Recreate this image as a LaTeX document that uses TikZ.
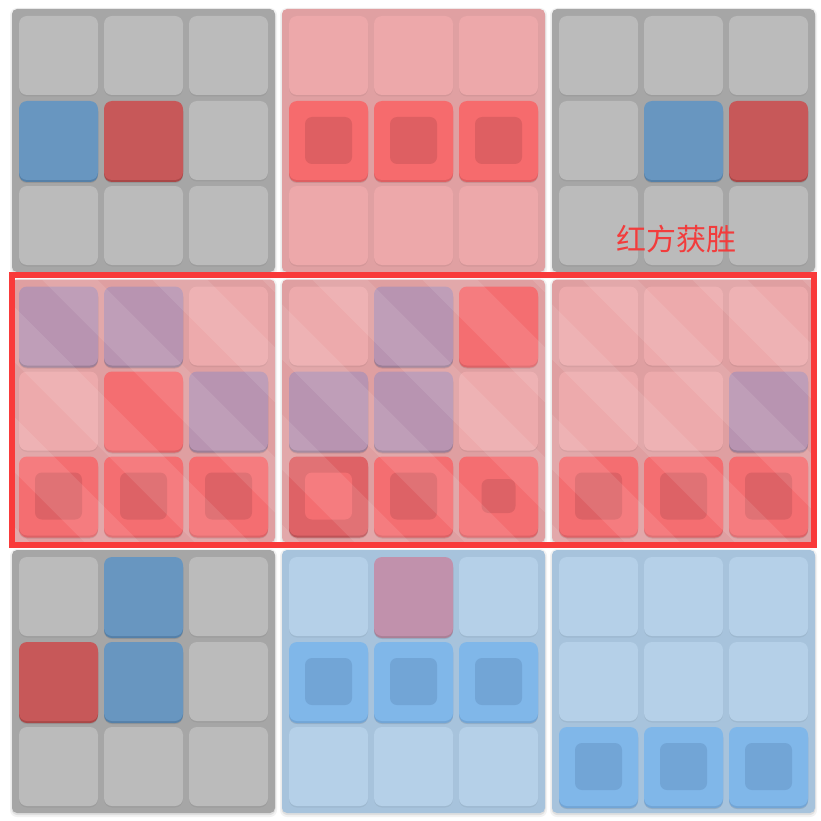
\documentclass[tikz,border=0pt]{standalone}
\usepackage{fontspec}
\newfontfamily\cjk{Noto Sans CJK SC}
\definecolor{grayBg}{HTML}{A6A6A6}
\definecolor{grayCell}{HTML}{BBBBBB}
\definecolor{bluePiece}{HTML}{6896C0}
\definecolor{bluePieceDk}{HTML}{5580A8}
\definecolor{redPiece}{HTML}{C75859}
\definecolor{redPieceDk}{HTML}{A94848}
\definecolor{redBg}{HTML}{E0A0A2}
\definecolor{redCell}{HTML}{EDA8AA}
\definecolor{redHi}{HTML}{F66B6D}
\definecolor{redInner}{HTML}{DE5F62}
\definecolor{blueBg}{HTML}{A7C3DC}
\definecolor{blueCell}{HTML}{B5D0E8}
\definecolor{blueHi}{HTML}{80B7E9}
\definecolor{blueInner}{HTML}{72A5D6}
\definecolor{pinkPiece}{HTML}{C191AC}
\definecolor{midBg}{HTML}{DF9FA1}
\definecolor{midCell}{HTML}{EDAAAC}
\definecolor{midPurple}{HTML}{B894B1}
\definecolor{midHi}{HTML}{F46E71}
\definecolor{midInner}{HTML}{DD6266}
\definecolor{midDark}{HTML}{DE6266}
\definecolor{winRed}{HTML}{F93A3A}
\definecolor{textRed}{HTML}{F23C3C}
\newcommand{\drawboard}[3]{%
  \fill[black,opacity=0.05,rounded corners=7] ({#1-2},{#2-1}) rectangle ++(267,268);
  \fill[black,opacity=0.08,rounded corners=6] ({#1-0.5},{#2+1}) rectangle ++(264,264);
  \fill[#3,rounded corners=5] (#1,#2) rectangle ++(263,263);}
\newcommand{\drawcell}[5]{%
  \fill[black,opacity=0.05,rounded corners=8] ({#1+7+#3*85},{#2+7+#4*85+1.5}) rectangle ++(79,79);
  \fill[#5,rounded corners=8] ({#1+7+#3*85},{#2+7+#4*85}) rectangle ++(79,79);}
\newcommand{\drawpiece}[6]{%
  \fill[black,opacity=0.10,rounded corners=8] ({#1+7+#3*85},{#2+7+#4*85+3}) rectangle ++(79,79);
  \fill[#6,rounded corners=8] ({#1+7+#3*85},{#2+7+#4*85+2}) rectangle ++(79,79);
  \fill[#5,rounded corners=8] ({#1+7+#3*85},{#2+7+#4*85}) rectangle ++(79,79);}
\newcommand{\drawinner}[6]{%
  \fill[#5,rounded corners=7] ({#1+7+#3*85+(79-#6)/2},{#2+7+#4*85+(79-#6)/2}) rectangle ++(#6,#6);}
\newcommand{\drawstripes}[2]{%
  \begin{scope}
    \clip[rounded corners=5] (#1,#2) rectangle ++(263,263);
    \foreach \k in {-3,...,2} {
      \fill[white,opacity=0.10] ({#1+\k*110+30},{#2}) -- ++(55,0) -- ++(263,263) -- ++(-55,0) -- cycle;
    }
  \end{scope}}
\begin{document}
\begin{tikzpicture}[x=1pt,y=-1pt]
\useasboundingbox (0,0) rectangle (821,821);
\fill[white] (0,0) rectangle (821,821);
% ---------- board 1 (gray) ----------
\drawboard{12}{9}{grayBg}
\foreach \c in {0,1,2} {\drawcell{12}{9}{\c}{0}{grayCell}\drawcell{12}{9}{\c}{2}{grayCell}}
\drawpiece{12}{9}{0}{1}{bluePiece}{bluePieceDk}
\drawpiece{12}{9}{1}{1}{redPiece}{redPieceDk}
\drawcell{12}{9}{2}{1}{grayCell}
% ---------- board 2 (red) ----------
\drawboard{282}{9}{redBg}
\foreach \c in {0,1,2} {\drawcell{282}{9}{\c}{0}{redCell}\drawcell{282}{9}{\c}{2}{redCell}
  \drawpiece{282}{9}{\c}{1}{redHi}{redInner}\drawinner{282}{9}{\c}{1}{redInner}{47}}
% ---------- board 3 (gray) ----------
\drawboard{552}{9}{grayBg}
\foreach \c in {0,1,2} {\drawcell{552}{9}{\c}{0}{grayCell}\drawcell{552}{9}{\c}{2}{grayCell}}
\drawcell{552}{9}{0}{1}{grayCell}
\drawpiece{552}{9}{1}{1}{bluePiece}{bluePieceDk}
\drawpiece{552}{9}{2}{1}{redPiece}{redPieceDk}
\node[text=textRed,font=\cjk\fontsize{30}{30}\selectfont,inner sep=0pt] (win) at (676,239) {红方获胜};
% ---------- board 4 (middle) ----------
\drawboard{12}{279.5}{midBg}
\drawpiece{12}{279.5}{0}{0}{midPurple}{midPurple!85!black}
\drawpiece{12}{279.5}{1}{0}{midPurple}{midPurple!85!black}
\drawcell{12}{279.5}{2}{0}{midCell}
\drawcell{12}{279.5}{0}{1}{midCell}
\drawpiece{12}{279.5}{1}{1}{midHi}{midInner}
\drawpiece{12}{279.5}{2}{1}{midPurple}{midPurple!85!black}
\foreach \c in {0,1,2} {\drawpiece{12}{279.5}{\c}{2}{midHi}{midInner}\drawinner{12}{279.5}{\c}{2}{midInner}{47}}
\drawstripes{12}{279.5}
% ---------- board 5 (middle) ----------
\drawboard{282}{279.5}{midBg}
\drawcell{282}{279.5}{0}{0}{midCell}
\drawpiece{282}{279.5}{1}{0}{midPurple}{midPurple!85!black}
\drawpiece{282}{279.5}{2}{0}{midHi}{midInner}
\drawpiece{282}{279.5}{0}{1}{midPurple}{midPurple!85!black}
\drawpiece{282}{279.5}{1}{1}{midPurple}{midPurple!85!black}
\drawcell{282}{279.5}{2}{1}{midCell}
\drawpiece{282}{279.5}{0}{2}{midDark}{midDark!85!black}\drawinner{282}{279.5}{0}{2}{midHi}{47}
\drawpiece{282}{279.5}{1}{2}{midHi}{midInner}\drawinner{282}{279.5}{1}{2}{midInner}{47}
\drawpiece{282}{279.5}{2}{2}{midHi}{midInner}\drawinner{282}{279.5}{2}{2}{midInner}{34}
\drawstripes{282}{279.5}
% ---------- board 6 (middle) ----------
\drawboard{552}{279.5}{midBg}
\foreach \c in {0,1,2} {\drawcell{552}{279.5}{\c}{0}{midCell}}
\drawcell{552}{279.5}{0}{1}{midCell}
\drawcell{552}{279.5}{1}{1}{midCell}
\drawpiece{552}{279.5}{2}{1}{midPurple}{midPurple!85!black}
\foreach \c in {0,1,2} {\drawpiece{552}{279.5}{\c}{2}{midHi}{midInner}\drawinner{552}{279.5}{\c}{2}{midInner}{47}}
\drawstripes{552}{279.5}
% ---------- board 7 (gray) ----------
\drawboard{12}{550}{grayBg}
\drawcell{12}{550}{0}{0}{grayCell}
\drawpiece{12}{550}{1}{0}{bluePiece}{bluePieceDk}
\drawcell{12}{550}{2}{0}{grayCell}
\drawpiece{12}{550}{0}{1}{redPiece}{redPieceDk}
\drawpiece{12}{550}{1}{1}{bluePiece}{bluePieceDk}
\drawcell{12}{550}{2}{1}{grayCell}
\foreach \c in {0,1,2} {\drawcell{12}{550}{\c}{2}{grayCell}}
% ---------- board 8 (blue) ----------
\drawboard{282}{550}{blueBg}
\drawcell{282}{550}{0}{0}{blueCell}
\drawpiece{282}{550}{1}{0}{pinkPiece}{pinkPiece!88!black}
\drawcell{282}{550}{2}{0}{blueCell}
\foreach \c in {0,1,2} {\drawpiece{282}{550}{\c}{1}{blueHi}{blueInner}\drawinner{282}{550}{\c}{1}{blueInner}{47}
  \drawcell{282}{550}{\c}{2}{blueCell}}
% ---------- board 9 (blue) ----------
\drawboard{552}{550}{blueBg}
\foreach \c in {0,1,2} {\drawcell{552}{550}{\c}{0}{blueCell}\drawcell{552}{550}{\c}{1}{blueCell}
  \drawpiece{552}{550}{\c}{2}{blueHi}{blueInner}\drawinner{552}{550}{\c}{2}{blueInner}{47}}
% ---------- winning row frame ----------
\draw[winRed,line width=6pt] (12,275) rectangle (814,545);
\end{tikzpicture}
\end{document}
